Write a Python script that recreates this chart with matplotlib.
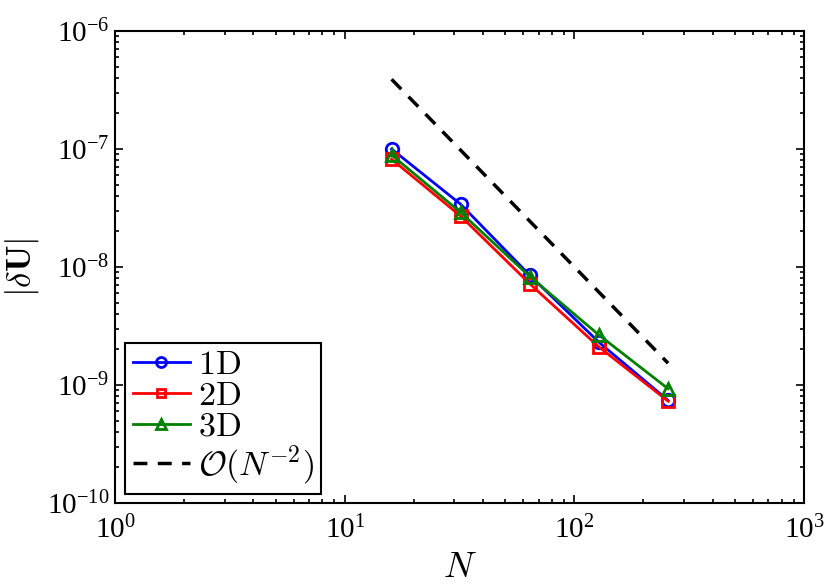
import numpy as np
import matplotlib
matplotlib.use('Agg')
import matplotlib.pyplot as plt
from matplotlib.font_manager import FontProperties
from matplotlib.ticker import LogLocator, LogFormatterMathtext, NullFormatter

plt.rcParams['font.family'] = 'Liberation Serif'
plt.rcParams['mathtext.fontset'] = 'stix'

# data
N = [16, 32, 64, 128, 256]
err_1d = [1.0e-7, 3.4e-8, 8.5e-9, 2.3e-9, 7.4e-10]
err_2d = [8.2e-8, 2.7e-8, 7.2e-9, 2.1e-9, 7.3e-10]
err_3d = [8.9e-8, 2.9e-8, 8.3e-9, 2.65e-9, 9.3e-10]
N_ref = [16, 256]
err_ref = [3.9e-7, 1.53e-9]
labels = [r'$\mathrm{1D}$', r'$\mathrm{2D}$', r'$\mathrm{3D}$', r'$\mathcal{O}(N^{-2})$']

fig = plt.figure(figsize=(8.3, 5.84), dpi=100)
ax = fig.add_axes([0.1386, 0.1387, 0.8301, 0.8082])

ax.plot(N, err_1d, '-o', color=(0, 0, 1), lw=2, ms=9, mfc='none', mew=2, label=labels[0])
ax.plot(N, err_2d, '-s', color=(1, 0, 0), lw=2, ms=8, mfc='none', mew=2, label=labels[1])
ax.plot(N, err_3d, '-^', color=(0, 0.5, 0), lw=2, ms=9, mfc='none', mew=2, label=labels[2])
ax.plot(N_ref, err_ref, '--', color='black', lw=2.5, dashes=(4, 3), label=labels[3])

ax.set_xscale('log')
ax.set_yscale('log')
ax.set_xlim(1, 1e3)
ax.set_ylim(1e-10, 1e-6)

ax.xaxis.set_major_locator(LogLocator(base=10, numticks=10))
ax.yaxis.set_major_locator(LogLocator(base=10, numticks=10))
ax.xaxis.set_minor_locator(LogLocator(base=10, subs=np.arange(2, 10), numticks=20))
ax.yaxis.set_minor_locator(LogLocator(base=10, subs=np.arange(2, 10), numticks=20))
ax.xaxis.set_major_formatter(LogFormatterMathtext())
ax.yaxis.set_major_formatter(LogFormatterMathtext())
ax.xaxis.set_minor_formatter(NullFormatter())
ax.yaxis.set_minor_formatter(NullFormatter())

ax.tick_params(which='both', direction='in', top=True, right=True, width=1.2)
ax.tick_params(which='major', length=6, labelsize=21)
ax.tick_params(axis='x', which='major', pad=9)
ax.tick_params(axis='y', which='major', pad=4)
ax.tick_params(which='minor', length=3)
for s in ax.spines.values():
    s.set_linewidth(1.5)

ax.set_xlabel(r'$N$', fontsize=26, math_fontfamily='cm', labelpad=6)
ax.set_ylabel(r'$|\delta\mathbf{U}|$', fontsize=25, math_fontfamily='cm', labelpad=4)

leg_font = FontProperties(size=24.5, math_fontfamily='cm')
leg = ax.legend(loc='lower left', bbox_to_anchor=(0.0145, 0.019), borderaxespad=0,
                prop=leg_font, fancybox=False, framealpha=1, edgecolor='black',
                handlelength=1.7, handletextpad=0.22, labelspacing=0.0, borderpad=0.22,
                markerscale=0.8)
leg.get_frame().set_linewidth(1.5)

fig.savefig('out.png', dpi=100)
